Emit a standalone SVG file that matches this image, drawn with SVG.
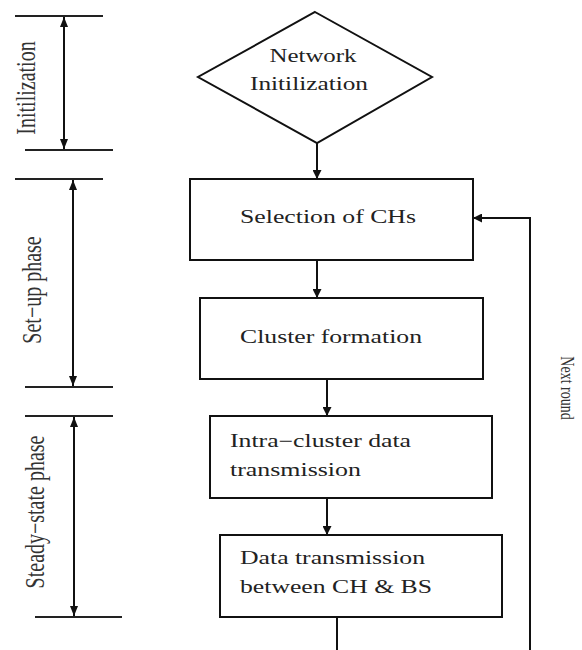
<svg xmlns="http://www.w3.org/2000/svg" width="582" height="650" viewBox="0 0 582 650">
  <style>
    .box { fill: #fff; stroke: #111; stroke-width: 2; }
    .ln { stroke: #111; stroke-width: 2; fill: none; }
    .tick { stroke: #222; stroke-width: 2; }
    .lbl { font-family: "Liberation Serif", "Times New Roman", serif; font-size: 18px; fill: #222; }
    .side { font-family: "Liberation Serif", "Times New Roman", serif; font-size: 20px; fill: #333; }
    .small { font-family: "Liberation Serif", "Times New Roman", serif; font-size: 14px; fill: #333; }
  </style>
  <defs>
    <marker id="arr" viewBox="0 0 10 10" refX="10" refY="5" markerWidth="9" markerHeight="9" markerUnits="userSpaceOnUse" orient="auto">
      <path d="M0,0 L10,5 L0,10 Z" fill="#111"/>
    </marker>
    <marker id="arrS" viewBox="0 0 10 10" refX="10" refY="5" markerWidth="10" markerHeight="10" markerUnits="userSpaceOnUse" orient="auto-start-reverse">
      <path d="M0,1 L10,5 L0,9 Z" fill="#111"/>
    </marker>
  </defs>

  <!-- phase brackets on the left -->
  <g id="phase-init">
    <line class="tick" x1="15" y1="16" x2="103" y2="16"/>
    <line class="tick" x1="25" y1="150" x2="113" y2="150"/>
    <line class="ln" x1="64" y1="17" x2="64" y2="149" marker-start="url(#arrS)" marker-end="url(#arrS)"/>
    <text class="side" text-anchor="middle" transform="translate(35,88) scale(1.35,1) rotate(-90)">Initilization</text>
  </g>
  <g id="phase-setup">
    <line class="tick" x1="15" y1="179" x2="103" y2="179"/>
    <line class="tick" x1="25" y1="387" x2="113" y2="387"/>
    <line class="ln" x1="73" y1="180" x2="73" y2="386" marker-start="url(#arrS)" marker-end="url(#arrS)"/>
    <text class="side" text-anchor="middle" transform="translate(41,290) scale(1.35,1) rotate(-90)">Set−up phase</text>
  </g>
  <g id="phase-steady">
    <line class="tick" x1="25" y1="416" x2="113" y2="416"/>
    <line class="tick" x1="35" y1="617" x2="122" y2="617" stroke="#888"/>
    <line class="ln" x1="74" y1="417" x2="74" y2="616" marker-start="url(#arrS)" marker-end="url(#arrS)"/>
    <text class="side" text-anchor="middle" transform="translate(44,512) scale(1.35,1) rotate(-90)">Steady−state phase</text>
  </g>

  <!-- flow nodes -->
  <g id="network-init">
    <polygon class="box" points="315,12 432,77 317,143 198,77"/>
    <text class="lbl" x="313" y="62" text-anchor="middle" textLength="87" lengthAdjust="spacingAndGlyphs">Network</text>
    <text class="lbl" x="309" y="90" text-anchor="middle" textLength="118" lengthAdjust="spacingAndGlyphs">Initilization</text>
  </g>
  <g id="select-ch">
    <rect class="box" x="190" y="179" width="283" height="81"/>
    <text class="lbl" x="240" y="223" textLength="176" lengthAdjust="spacingAndGlyphs">Selection of CHs</text>
  </g>
  <g id="cluster-formation">
    <rect class="box" x="200" y="298" width="283" height="81"/>
    <text class="lbl" x="240" y="343" textLength="182" lengthAdjust="spacingAndGlyphs">Cluster formation</text>
  </g>
  <g id="intra-cluster">
    <rect class="box" x="210" y="416" width="282" height="82"/>
    <text class="lbl" x="230" y="447" textLength="181" lengthAdjust="spacingAndGlyphs">Intra−cluster data</text>
    <text class="lbl" x="230" y="476" textLength="131" lengthAdjust="spacingAndGlyphs">transmission</text>
  </g>
  <g id="ch-to-bs">
    <rect class="box" x="220" y="535" width="282" height="82" stroke-width="2.5"/>
    <text class="lbl" x="240" y="564" textLength="185" lengthAdjust="spacingAndGlyphs">Data transmission</text>
    <text class="lbl" x="240" y="593" textLength="192" lengthAdjust="spacingAndGlyphs">between CH &amp; BS</text>
  </g>

  <!-- connectors -->
  <g id="connectors">
    <line class="ln" x1="317" y1="143" x2="317" y2="179" marker-end="url(#arr)"/>
    <line class="ln" x1="317" y1="260" x2="317" y2="298" marker-end="url(#arr)"/>
    <line class="ln" x1="327" y1="379" x2="327" y2="416" marker-end="url(#arr)"/>
    <line class="ln" x1="327" y1="498" x2="327" y2="535" marker-end="url(#arr)"/>
    <line class="ln" x1="337" y1="617" x2="337" y2="650"/>
    <polyline class="ln" points="530,650 530,218 473,218" marker-end="url(#arr)"/>
    <text class="small" text-anchor="middle" transform="translate(561,388) scale(1.4,1) rotate(90)">Next round</text>
  </g>
</svg>
